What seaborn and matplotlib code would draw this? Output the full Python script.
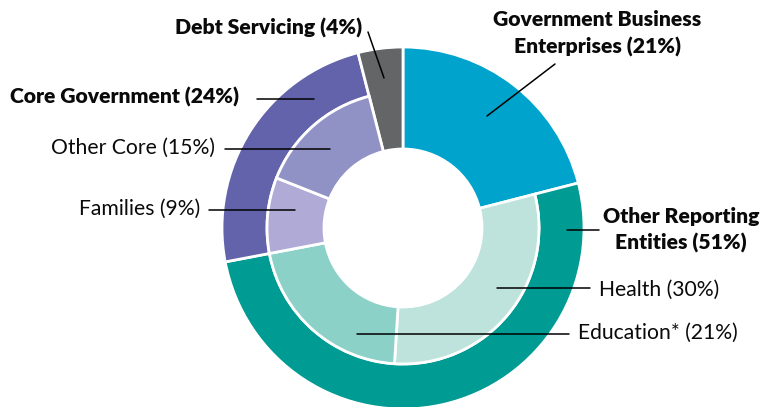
import matplotlib
matplotlib.use("Agg")
import matplotlib.pyplot as plt
import seaborn as sns

# Expenditure shares by sector (outer ring) and sub-sector (inner ring)
outer_labels = ["Government Business\nEnterprises", "Other Reporting\nEntities",
                "Core Government", "Debt Servicing"]
outer_values = [21, 51, 24, 4]
inner_labels = ["Health", "Education*", "Families", "Other Core"]
inner_values = [30, 21, 9, 15]
# which outer sector each inner slice belongs to
inner_parent = [1, 1, 2, 2]

outer_colors = ["#00A3CC", "#009B93", "#6263AA", "#646567"]
inner_colors = ["#BEE3DC", "#8BD1C8", "#B0ABD6", "#9092C6"]

sns.set_theme(style="white")
plt.rcParams["font.family"] = ["Lato", "DejaVu Sans"]

W, H = 760, 407
fig = plt.figure(figsize=(W / 100, H / 100), dpi=100)
ax = fig.add_axes([0, 0, 1, 1])

cx, cy = 403, 179          # pie centre in pixel units
r_out, r_mid, r_hole = 181, 136, 79

wedge_style = dict(edgecolor="white", linewidth=2)

# Outer ring: sectors without sub-sectors fill the full depth down to the hole
outer_wedges, _ = ax.pie(outer_values, colors=outer_colors, startangle=90,
                         counterclock=False, center=(cx, cy), radius=r_out,
                         wedgeprops=dict(width=r_out - r_mid, **wedge_style))
has_children = set(inner_parent)
for i, w in enumerate(outer_wedges):
    if i not in has_children:
        w.set_width(r_out - r_hole)

# Inner ring: sub-sectors placed within their parent sector's span
ring_values, ring_colors, ring_visible = [], [], []
for i, v in enumerate(outer_values):
    kids = [k for k, p in enumerate(inner_parent) if p == i]
    if kids:
        for k in kids:
            ring_values.append(inner_values[k])
            ring_colors.append(inner_colors[k])
            ring_visible.append(True)
    else:
        ring_values.append(v)
        ring_colors.append("white")
        ring_visible.append(False)

inner_wedges, _ = ax.pie(ring_values, colors=ring_colors, startangle=90,
                         counterclock=False, center=(cx, cy), radius=r_mid,
                         wedgeprops=dict(width=r_mid - r_hole, **wedge_style))
for w, vis in zip(inner_wedges, ring_visible):
    w.set_visible(vis)

ax.set_xlim(0, W)
ax.set_ylim(0, H)
ax.set_aspect("equal")
ax.axis("off")

def Y(y):
    return H - y

fs = 15.2
ink = "#0a0a0a"
line_kw = dict(color="black", linewidth=1.1)

def pct(v):
    return f"({v}%)"

# Debt Servicing
ax.text(362, Y(28), f"{outer_labels[3]} {pct(outer_values[3])}", ha="right", va="center",
        fontsize=fs, fontweight="heavy", color=ink)
ax.plot([368, 384], [Y(32), Y(78)], **line_kw)

# Government Business Enterprises
gbe = outer_labels[0].split("\n")
ax.text(597, Y(20), gbe[0], ha="center", va="center", fontsize=fs,
        fontweight="heavy", color=ink)
ax.text(597, Y(47), f"{gbe[1]} {pct(outer_values[0])}", ha="center", va="center",
        fontsize=fs, fontweight="heavy", color=ink)
ax.plot([555, 487], [Y(64), Y(116)], **line_kw)

# Core Government
ax.text(10, Y(97), f"{outer_labels[2]} {pct(outer_values[2])}", ha="left", va="center",
        fontsize=fs, fontweight="heavy", color=ink)
ax.plot([257, 314], [Y(99), Y(99)], **line_kw)

# Other Core
ax.text(215, Y(148), f"{inner_labels[3]} {pct(inner_values[3])}", ha="right", va="center",
        fontsize=fs, color=ink)
ax.plot([225, 330], [Y(149), Y(149)], **line_kw)

# Families
ax.text(200, Y(209), f"{inner_labels[2]} {pct(inner_values[2])}", ha="right", va="center",
        fontsize=fs, color=ink)
ax.plot([209, 295], [Y(210), Y(210)], **line_kw)

# Other Reporting Entities
ore = outer_labels[1].split("\n")
ax.text(681, Y(216), ore[0], ha="center", va="center", fontsize=fs,
        fontweight="heavy", color=ink)
ax.text(681, Y(243), f"{ore[1]} {pct(outer_values[1])}", ha="center", va="center",
        fontsize=fs, fontweight="heavy", color=ink)
ax.plot([567, 599], [Y(230), Y(230)], **line_kw)

# Health
ax.text(599, Y(290), f"{inner_labels[0]} {pct(inner_values[0])}", ha="left", va="center",
        fontsize=fs, color=ink)
ax.plot([497, 590], [Y(288), Y(288)], **line_kw)

# Education
ax.text(578, Y(333), f"{inner_labels[1]} {pct(inner_values[1])}", ha="left", va="center",
        fontsize=fs, color=ink)
ax.plot([357, 569], [Y(334), Y(334)], **line_kw)

fig.savefig("out.png", dpi=100)
